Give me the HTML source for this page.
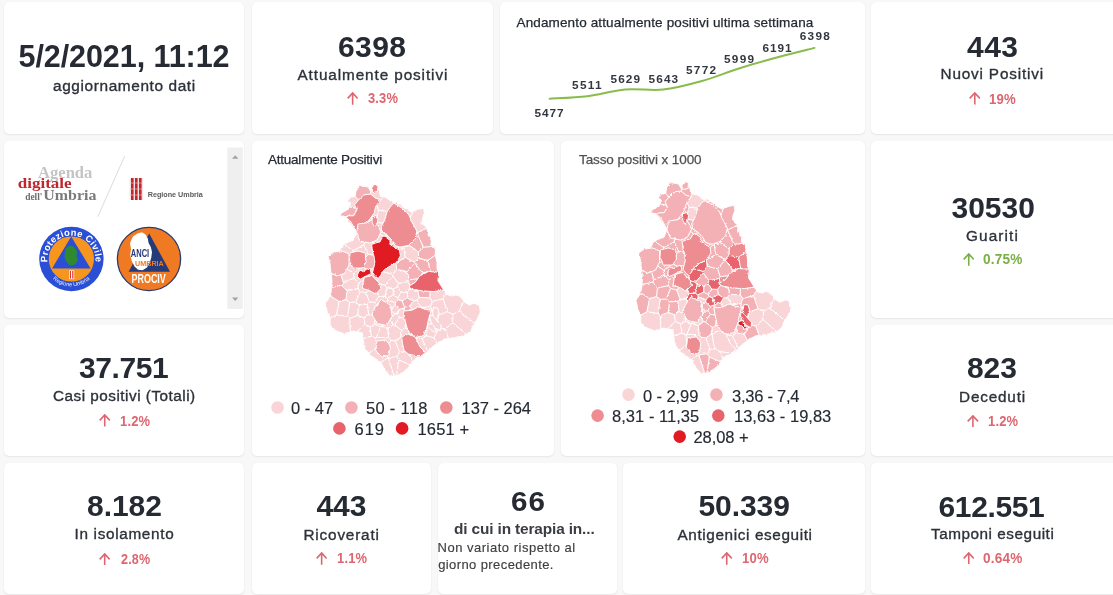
<!DOCTYPE html>
<html lang="it">
<head>
<meta charset="utf-8">
<title>Coronavirus Umbria - dashboard</title>
<style>
html,body{margin:0;padding:0}
body{width:1113px;height:595px;overflow:hidden;background:#f8f8f8;position:relative;font-family:"Liberation Sans",Arial,sans-serif}
.c{position:absolute;background:#fff;border-radius:5px;box-shadow:0 1px 2px rgba(0,0,0,0.07),0 0 1px rgba(0,0,0,0.06)}
.t{position:absolute;white-space:nowrap;line-height:1}
</style>
</head>
<body>
<div class="c" style="left:3.7px;top:2.3px;width:240.8px;height:131.4px"></div>
<div class="c" style="left:251.5px;top:2.3px;width:241.0px;height:131.4px"></div>
<div class="c" style="left:499.5px;top:2.3px;width:365.2px;height:131.4px"></div>
<div class="c" style="left:871.3px;top:2.3px;width:251.7px;height:131.4px"></div>
<div class="c" style="left:3.7px;top:140.5px;width:240.8px;height:177.2px"></div>
<div class="c" style="left:251.5px;top:140.5px;width:302.5px;height:315.2px"></div>
<div class="c" style="left:561.3px;top:140.5px;width:303.4px;height:315.2px"></div>
<div class="c" style="left:871.3px;top:140.5px;width:251.7px;height:177.2px"></div>
<div class="c" style="left:3.7px;top:324.5px;width:240.8px;height:131.2px"></div>
<div class="c" style="left:871.3px;top:324.5px;width:251.7px;height:131.2px"></div>
<div class="c" style="left:3.7px;top:462.5px;width:240.8px;height:131.0px"></div>
<div class="c" style="left:251.5px;top:462.5px;width:179.2px;height:131.0px"></div>
<div class="c" style="left:437.9px;top:462.5px;width:178.8px;height:131.0px"></div>
<div class="c" style="left:623.3px;top:462.5px;width:241.4px;height:131.0px"></div>
<div class="c" style="left:871.3px;top:462.5px;width:251.7px;height:131.0px"></div>
<svg class="gr" style="position:absolute;left:0;top:0" width="1113" height="595"><path d="M549.70 98.70 C555.97 98.28 574.72 97.75 587.30 96.20 C599.88 94.65 612.57 90.50 625.20 89.40 C637.83 88.30 650.47 90.95 663.10 89.60 C675.73 88.25 688.37 84.82 701.00 81.30 C713.63 77.78 726.27 72.47 738.90 68.50 C751.53 64.53 764.20 60.93 776.80 57.50 C789.40 54.07 808.22 49.50 814.50 47.90" fill="none" stroke="#89bb4d" stroke-width="2" stroke-linecap="round"/></svg>
<svg class="gr" style="position:absolute;left:0;top:0" width="1113" height="595"><defs><filter id="wob" x="0" y="0" width="1113" height="595" filterUnits="userSpaceOnUse"><feTurbulence type="fractalNoise" baseFrequency="0.35" numOctaves="2" seed="4" result="n"/><feDisplacementMap in="SourceGraphic" in2="n" scale="2.6" xChannelSelector="R" yChannelSelector="G"/></filter></defs><g filter="url(#wob)"><g stroke="#fff" stroke-width="0.9" stroke-linejoin="round"><path d="M373.8 184.7 L371.0 191.5 L368.0 187.0 L360.3 185.6 L356.1 190.6 L355.3 196.5 L350.3 197.3 L347.7 200.7 L351.1 203.2 L348.6 209.1 L341.0 213.3 L340.2 215.8 L346.0 216.7 L347.7 220.0 L352.8 226.7 L356.1 233.5 L353.6 240.2 L346.9 242.7 L343.5 244.4 L340.2 250.3 L331.8 252.0 L327.6 257.0 L330.1 263.7 L331.5 276.0 L332.0 281.1 L331.1 292.2 L329.2 297.7 L325.5 303.3 L327.4 312.5 L330.2 318.1 L330.2 325.5 L336.6 331.0 L344.0 333.8 L353.3 331.0 L362.5 332.9 L363.4 340.3 L364.4 347.6 L369.9 355.0 L381.0 362.4 L384.7 369.8 L390.3 376.3 L396.7 375.8 L400.0 374.1 L405.1 370.8 L408.4 367.4 L411.8 362.4 L415.2 359.0 L420.2 357.3 L425.3 354.0 L428.6 350.6 L432.0 347.2 L438.7 342.2 L445.4 338.8 L453.8 338.0 L463.9 335.5 L470.6 332.1 L474.0 323.7 L477.4 318.7 L480.7 311.1 L479.0 305.2 L474.0 303.5 L469.0 305.2 L463.9 301.8 L460.5 296.8 L455.5 294.3 L452.1 296.0 L447.1 295.1 L443.7 290.1 L438.7 282.4 L439.5 274.0 L437.0 269.0 L437.0 262.2 L435.3 255.5 L435.3 248.8 L431.1 245.4 L431.1 240.4 L427.8 234.5 L426.9 227.8 L421.9 223.6 L422.7 217.7 L424.4 213.5 L423.6 208.4 L418.5 209.3 L411.0 211.8 L405.1 208.4 L396.7 201.7 L394.0 203.2 L388.9 199.8 L385.5 197.3 L380.5 196.5 L378.0 185.6Z" fill="#f9d5d7"/><path d="M349.5 260.9 L350.0 253.0 L353.4 252.1 L353.2 250.7 L344.2 244.0 L343.5 244.4 L340.2 250.3 L337.0 250.9 L337.4 251.6 L342.0 251.0 L349.0 254.0 L349.0 261.2Z" fill="#f9d5d7"/><path d="M395.5 302.8 L398.4 299.5 L397.9 297.6 L393.3 295.0 L387.1 297.9 L387.7 300.2Z" fill="#f9d5d7"/><path d="M356.8 331.7 L362.5 332.9 L363.2 338.7 L371.5 336.2 L370.1 326.8 L365.0 324.5Z" fill="#f9d5d7"/><path d="M426.5 335.7 L421.8 338.6 L427.8 351.4 L428.6 350.6 L432.0 347.2 L437.1 343.4 L433.9 337.7Z" fill="#f9d5d7"/><path d="M347.6 316.4 L336.5 314.8 L330.2 318.1 L330.2 325.5 L336.6 331.0 L344.0 333.8 L350.4 331.9 L349.8 318.2Z" fill="#f9d5d7"/><path d="M387.7 300.2 L387.1 297.9 L385.0 296.1 L378.6 296.6 L374.9 302.1 L377.1 304.8 L381.0 299.6 L386.8 303.0Z" fill="#f9d5d7"/><path d="M445.3 329.1 L448.4 338.5 L453.8 338.0 L463.9 335.5 L466.0 334.4 L452.6 322.4Z" fill="#f9d5d7"/><path d="M378.6 210.3 L387.4 211.3 L390.6 206.6 L394.0 203.2 L388.9 199.8 L385.5 197.3 L383.1 196.9 L379.6 201.1 L378.0 203.2 L376.6 205.6ZM399.0 203.6 L396.7 201.7 L394.0 203.2 L397.8 205.5Z" fill="#f9d5d7"/><path d="M379.2 277.1 L378.1 278.4 L375.3 276.1 L372.6 272.4 L373.5 268.7 L373.7 267.9 L370.2 269.1 L371.2 273.6 L367.4 275.3 L367.4 276.6 L371.8 275.5 L377.8 281.6Z" fill="#f9d5d7"/><path d="M477.4 318.7 L480.7 311.1 L479.0 305.2 L474.0 303.5 L469.0 305.2 L463.9 301.8 L463.6 301.4 L459.1 311.1 L474.3 323.3Z" fill="#f9d5d7"/><path d="M407.6 328.8 L406.8 327.1 L405.6 322.5 L405.1 328.4Z" fill="#f9d5d7"/><path d="M435.3 255.2 L435.3 248.8 L432.3 246.4 L423.4 247.1 L418.6 251.8 L418.3 258.4 L428.0 260.4Z" fill="#f3b1b5"/><path d="M428.1 324.5 L431.5 323.7 L432.0 324.5 L432.9 324.5 L431.0 322.0 L429.5 316.0 L433.0 315.5 L433.4 316.1 L432.5 313.0 L432.9 311.0 L432.1 310.6 L430.4 312.7 L428.6 318.7 L427.4 324.5ZM439.1 314.7 L438.5 314.4 L437.0 319.0 L435.1 318.4 L437.0 321.0 L437.2 321.3Z" fill="#f9d5d7"/><path d="M331.5 276.0 L332.0 281.1 L331.5 287.6 L342.3 285.2 L343.5 282.7 L341.0 274.5 L337.0 276.0 L331.2 273.1Z" fill="#f3b1b5"/><path d="M399.2 250.1 L399.4 250.2 L400.3 255.7 L398.4 259.4 L395.9 262.9 L395.9 263.0 L405.3 257.5 L403.9 247.5Z" fill="#f9d5d7"/><path d="M417.1 232.9 L416.7 232.9 L416.2 233.7 L415.2 238.7 L411.0 242.9 L409.4 245.6 L418.6 251.8 L423.4 247.1Z" fill="#f3b1b5"/><path d="M387.9 328.7 L393.0 324.8 L390.4 319.6 L390.2 319.5 L386.6 325.5 L382.1 324.6 L381.7 326.5Z" fill="#f9d5d7"/><path d="M346.8 291.1 L358.1 288.7 L358.4 282.6 L354.0 278.1 L343.5 282.7 L342.3 285.2Z" fill="#f9d5d7"/><path d="M423.4 247.1 L432.3 246.4 L431.1 245.4 L431.1 240.4 L427.8 234.5 L426.9 228.1 L417.1 232.9Z" fill="#f3b1b5"/><path d="M368.5 254.5 L363.6 244.8 L353.2 250.7 L353.4 252.1 L358.0 251.0 L365.0 253.0 L365.5 257.3Z" fill="#f9d5d7"/><path d="M399.6 352.3 L396.7 356.8 L398.9 360.1 L410.1 364.9 L411.8 362.4 L412.9 361.3 L409.1 354.2 L408.4 354.0 L405.1 351.4Z" fill="#f9d5d7"/><path d="M390.4 319.6 L395.0 313.7 L391.4 310.9 L391.3 311.0 L392.1 316.2 L390.2 319.5Z" fill="#f9d5d7"/><path d="M388.6 343.6 L390.3 346.0 L389.0 355.0 L387.1 355.5 L388.1 357.9 L388.2 357.9 L396.7 356.8 L399.6 352.3 L395.4 340.8 L390.9 340.3Z" fill="#f9d5d7"/><path d="M422.4 273.2 L428.4 271.6 L428.6 271.5 L428.8 271.5 L430.2 271.1 L428.0 260.4 L418.3 258.4 L414.6 262.4 L414.6 262.9Z" fill="#f3b1b5"/><path d="M446.0 293.5 L443.7 290.1 L443.6 290.0 L433.7 291.6 L430.0 291.3 L429.7 297.9 L432.3 301.4 L443.0 298.9Z" fill="#f9d5d7"/><path d="M410.0 306.1 L412.3 310.0 L418.5 306.9 L421.1 307.8 L421.2 307.6 L417.1 300.2 L412.9 301.1Z" fill="#f9d5d7"/><path d="M404.1 307.8 L399.7 309.2 L397.3 313.8 L399.8 317.5 L404.7 318.1 L403.4 311.1 L404.9 311.0Z" fill="#f9d5d7"/><path d="M393.4 289.1 L386.5 287.5 L385.0 296.1 L387.1 297.9 L393.3 295.0Z" fill="#f9d5d7"/><path d="M445.3 329.1 L452.6 322.4 L453.1 314.3 L447.3 311.7 L439.1 314.7 L437.2 321.3 L441.5 326.0 L440.8 328.1Z" fill="#f9d5d7"/><path d="M432.1 310.6 L430.5 306.6 L421.2 307.6 L421.1 307.8 L425.3 309.4 L431.1 310.3 L430.4 312.7Z" fill="#f9d5d7"/><path d="M430.0 291.3 L421.9 290.8 L419.2 290.4 L418.1 291.5 L418.9 297.4 L429.7 297.9Z" fill="#f3b1b5"/><path d="M418.6 251.8 L409.4 245.6 L404.2 246.7 L403.9 247.5 L405.3 257.5 L414.6 262.4 L418.3 258.4Z" fill="#f9d5d7"/><path d="M349.6 206.7 L348.6 209.1 L341.0 213.3 L340.2 215.8 L346.0 216.7 L346.3 217.3 L348.6 215.8 L353.6 215.8 L357.0 209.9 L356.2 208.4ZM347.7 220.0 L352.8 226.7 L354.8 230.8 L355.6 230.8 L353.6 226.7 L350.3 220.9 L346.7 218.0Z" fill="#f3b1b5"/><path d="M407.0 271.8 L409.6 279.8 L417.9 278.8 L420.2 275.7 L421.6 275.0 L422.4 273.2 L414.6 262.9Z" fill="#f3b1b5"/><path d="M412.9 301.1 L407.9 297.2 L402.0 300.9 L404.4 307.3 L410.0 306.1Z" fill="#f3b1b5"/><path d="M378.6 210.3 L376.6 205.6 L375.5 207.4 L373.8 213.3 L370.4 218.3 L367.4 222.1 L368.1 222.1 L372.1 219.6 L372.0 217.0 L376.0 215.5 L376.9 217.0Z" fill="#f9d5d7"/><path d="M392.9 276.1 L392.8 274.4 L382.6 271.6 L380.9 275.1 L379.2 277.1 L377.8 281.6 L379.2 283.0 L379.5 283.8 L385.0 285.3Z" fill="#f9d5d7"/><path d="M426.9 228.1 L426.9 227.8 L421.9 223.6 L422.7 217.7 L424.4 213.5 L423.6 208.4 L418.5 209.3 L413.2 211.1 L410.1 217.7 L411.8 221.9 L416.8 231.1 L416.5 232.7 L416.7 232.9 L417.1 232.9Z" fill="#f9d5d7"/><path d="M393.6 242.7 L392.3 240.2 L387.6 235.5 L384.9 236.5 L390.6 240.9 L389.7 244.2 L391.6 245.3Z" fill="#f9d5d7"/><path d="M396.6 375.8 L398.9 360.1 L396.7 356.8 L388.2 357.9 L394.0 376.0Z" fill="#f9d5d7"/><path d="M374.7 324.4 L380.9 326.7 L381.7 326.5 L382.1 324.6 L377.3 323.6 L374.7 319.3Z" fill="#f9d5d7"/><path d="M393.0 324.8 L394.4 324.9 L399.8 317.5 L397.3 313.8 L395.0 313.7 L390.4 319.6Z" fill="#f9d5d7"/><path d="M377.3 222.3 L377.0 224.0 L376.8 224.3 L378.0 226.0 L381.0 232.0 L379.7 234.6 L384.2 236.6 L384.6 236.3 L384.9 236.5 L387.6 235.5 L387.2 235.1 L382.2 231.8 L381.3 226.7 L383.1 223.2Z" fill="#f9d5d7"/><path d="M412.9 361.3 L415.2 359.0 L420.2 357.3 L423.3 355.3 L422.7 354.8 L421.9 355.6 L415.2 355.6 L409.1 354.2Z" fill="#f9d5d7"/><path d="M363.6 244.8 L368.5 254.5 L373.7 255.3 L373.0 253.0 L371.6 244.6 L374.6 243.4 L372.9 241.7 L370.0 243.0 L364.5 241.9Z" fill="#f9d5d7"/><path d="M369.7 302.1 L366.1 292.8 L360.1 291.4 L355.7 302.0 L359.0 304.9 L367.4 304.4Z" fill="#f9d5d7"/><path d="M416.8 338.2 L421.8 338.6 L426.5 335.7 L427.1 326.2 L426.9 327.1 L423.6 335.5 L416.8 337.1 L416.4 336.9Z" fill="#f9d5d7"/><path d="M400.4 337.2 L395.4 340.8 L399.6 352.3 L405.1 351.4 L404.2 350.6 L402.6 343.9 L401.8 337.8Z" fill="#f9d5d7"/><path d="M368.5 254.5 L365.5 257.3 L366.0 262.0 L362.7 266.9 L366.5 269.4 L366.8 269.2 L370.0 268.4 L370.2 269.1 L373.7 267.9 L374.9 263.1 L374.4 257.6 L373.7 255.3Z" fill="#f3b1b5"/><path d="M402.0 300.9 L407.9 297.2 L407.1 292.4 L401.2 292.1 L397.9 297.6 L398.4 299.5Z" fill="#f9d5d7"/><path d="M363.9 317.8 L368.7 314.4 L367.4 304.4 L359.0 304.9 L357.7 315.4Z" fill="#f9d5d7"/><path d="M413.2 211.1 L411.0 211.8 L405.1 208.4 L399.0 203.6 L397.8 205.5 L402.4 208.3 L409.0 215.0 L410.1 217.7Z" fill="#f9d5d7"/><path d="M437.0 269.0 L437.0 262.2 L435.3 255.5 L435.3 255.2 L428.0 260.4 L430.2 271.1 L431.7 271.7 L438.6 272.3Z" fill="#f3b1b5"/><path d="M385.0 285.3 L379.5 283.8 L381.0 288.5 L376.9 292.6 L378.6 296.6 L385.0 296.1 L386.5 287.5Z" fill="#f9d5d7"/><path d="M337.0 250.9 L331.8 252.0 L329.0 255.3 L334.0 252.0 L337.4 251.6ZM327.6 257.0 L330.1 263.6 L330.0 263.0 L328.1 256.4Z" fill="#f9d5d7"/><path d="M388.7 337.7 L376.4 337.3 L375.4 337.9 L376.4 347.3 L376.4 347.3 L377.0 341.0 L386.0 340.0 L388.6 343.6 L390.9 340.3Z" fill="#f9d5d7"/><path d="M447.3 311.7 L453.1 314.3 L459.1 311.1 L463.6 301.4 L460.5 296.8 L455.5 294.3 L452.1 296.0 L447.1 295.1 L446.0 293.5 L443.0 298.9Z" fill="#f9d5d7"/><path d="M350.4 331.9 L353.3 331.0 L356.8 331.7 L365.0 324.5 L363.9 317.8 L357.7 315.4 L349.8 318.2Z" fill="#f9d5d7"/><path d="M329.2 297.7 L325.5 303.3 L327.4 312.5 L330.2 318.1 L330.2 318.1 L336.5 314.8 L339.2 301.5 L329.9 295.6Z" fill="#f9d5d7"/><path d="M392.8 274.4 L396.9 269.2 L395.9 263.0 L395.9 262.9 L395.7 263.1 L392.0 265.0 L385.5 268.7 L382.7 271.4 L382.6 271.6Z" fill="#f9d5d7"/><path d="M433.9 337.7 L438.4 329.6 L435.5 328.0 L432.9 324.5 L432.0 324.5 L434.0 327.5 L436.5 331.5 L433.5 332.0 L430.0 328.5 L427.5 327.5 L428.0 324.5 L428.1 324.5 L427.4 324.5 L427.1 326.2 L426.5 335.7Z" fill="#f9d5d7"/><path d="M350.3 197.3 L347.7 200.7 L351.1 203.2 L349.6 206.7 L356.2 208.4 L354.5 204.9 L358.7 199.8 L355.3 196.5Z" fill="#f9d5d7"/><path d="M375.4 337.9 L371.5 336.2 L363.2 338.7 L363.4 340.3 L364.4 347.6 L368.9 353.7 L376.4 347.3Z" fill="#f9d5d7"/><path d="M349.6 302.2 L347.6 316.4 L349.8 318.2 L357.7 315.4 L359.0 304.9 L355.7 302.0Z" fill="#f9d5d7"/><path d="M353.9 273.6 L347.1 268.8 L345.0 273.0 L341.0 274.5 L343.5 282.7 L354.0 278.1Z" fill="#f9d5d7"/><path d="M453.1 314.3 L452.6 322.4 L466.0 334.4 L470.6 332.1 L474.0 323.7 L474.3 323.3 L459.1 311.1Z" fill="#f9d5d7"/><path d="M400.4 337.2 L401.8 337.8 L401.7 337.1 L408.4 333.8 L415.2 337.1 L416.1 338.9 L416.8 338.2 L416.4 336.9 L410.1 333.8 L407.6 328.8 L405.1 328.4 L401.8 330.4Z" fill="#f9d5d7"/><path d="M395.3 305.2 L395.5 302.8 L387.7 300.2 L386.8 303.0 L390.3 305.1 L390.6 307.1 L391.8 308.0Z" fill="#f9d5d7"/><path d="M397.3 313.8 L399.7 309.2 L395.3 305.2 L391.8 308.0 L391.4 310.9 L395.0 313.7Z" fill="#f9d5d7"/><path d="M401.8 330.4 L405.1 328.4 L405.6 322.5 L405.1 320.3 L404.7 318.1 L399.8 317.5 L394.4 324.9Z" fill="#f9d5d7"/><path d="M439.5 274.0 L438.7 272.4 L437.9 280.7 L438.7 282.0Z" fill="#f9d5d7"/><path d="M363.9 280.3 L364.4 277.4 L367.4 276.6 L367.4 275.3 L367.2 275.4 L363.2 277.5 L360.5 279.0 L357.4 278.0 L357.6 274.5 L359.8 270.2 L363.5 271.6 L366.5 269.4 L362.7 266.9 L362.0 268.0 L360.3 268.0 L353.9 273.6 L354.0 278.1 L358.4 282.6Z" fill="#f9d5d7"/><path d="M367.4 222.1 L367.1 222.5 L363.5 223.1 L363.4 223.3 L367.0 222.8 L368.1 222.1Z" fill="#f9d5d7"/><path d="M378.6 210.3 L376.9 217.0 L378.0 219.0 L377.3 222.3 L383.1 223.2 L384.7 220.0 L387.2 211.6 L387.4 211.3Z" fill="#f9d5d7"/><path d="M391.8 308.0 L390.6 307.1 L391.3 311.0 L391.4 310.9Z" fill="#f9d5d7"/><path d="M360.1 291.4 L358.1 288.7 L346.8 291.1 L346.0 299.7 L349.6 302.2 L355.7 302.0Z" fill="#f9d5d7"/><path d="M398.5 283.4 L392.9 276.1 L385.0 285.3 L386.5 287.5 L393.4 289.1 L397.4 286.7Z" fill="#f9d5d7"/><path d="M404.2 246.7 L409.4 245.6 L411.0 242.9 L408.4 245.4 L403.8 246.3Z" fill="#f9d5d7"/><path d="M437.1 343.4 L438.7 342.2 L445.4 338.8 L448.4 338.5 L445.3 329.1 L440.8 328.1 L440.0 330.5 L438.4 329.6 L433.9 337.7Z" fill="#f9d5d7"/><path d="M363.6 244.8 L364.5 241.9 L360.0 241.0 L356.5 233.0 L356.8 231.1 L356.1 231.8 L355.6 230.8 L354.8 230.8 L356.1 233.5 L353.6 240.2 L346.9 242.7 L344.2 244.0 L353.2 250.7Z" fill="#f9d5d7"/><path d="M410.2 288.2 L410.1 287.9 L408.4 286.6 L409.7 285.8 L408.8 281.4 L398.5 283.4 L397.4 286.7 L401.2 292.1 L407.1 292.4Z" fill="#f9d5d7"/><path d="M342.3 285.2 L331.5 287.6 L331.1 292.2 L329.9 295.6 L339.2 301.5 L346.0 299.7 L346.8 291.1Z" fill="#f3b1b5"/><path d="M380.5 196.5 L378.0 185.6 L377.5 191.4 L373.0 192.5 L371.7 189.9 L371.0 191.5 L368.0 187.0 L371.0 192.0 L370.4 194.0 L375.5 198.2 L380.5 199.8 L379.6 201.1 L383.1 196.9Z" fill="#f9d5d7"/><path d="M396.6 375.8 L396.7 375.8 L400.0 374.1 L405.1 370.8 L408.4 367.4 L410.1 364.9 L398.9 360.1Z" fill="#f9d5d7"/><path d="M366.1 292.8 L369.2 290.4 L369.0 290.3 L362.5 288.5 L363.9 280.3 L358.4 282.6 L358.1 288.7 L360.1 291.4Z" fill="#f9d5d7"/><path d="M379.7 234.6 L377.0 240.0 L372.9 241.7 L374.6 243.4 L376.3 242.8 L380.0 241.9 L381.8 238.2 L384.2 236.6Z" fill="#f9d5d7"/><path d="M398.5 283.4 L408.8 281.4 L409.6 279.8 L407.0 271.8 L396.9 269.2 L392.8 274.4 L392.9 276.1Z" fill="#f9d5d7"/><path d="M387.1 355.5 L382.0 357.0 L376.0 351.0 L376.4 347.3 L376.4 347.3 L368.9 353.7 L369.9 355.0 L381.0 362.4 L381.1 362.5 L388.1 357.9Z" fill="#f9d5d7"/><path d="M418.1 291.5 L419.2 290.4 L412.7 289.3ZM409.6 279.8 L408.8 281.4 L409.7 285.8 L415.2 282.4 L417.9 278.8Z" fill="#f3b1b5"/><path d="M432.1 310.6 L432.9 311.0 L433.5 307.5 L437.5 308.0 L439.0 313.0 L438.5 314.4 L439.1 314.7 L447.3 311.7 L443.0 298.9 L432.3 301.4 L430.5 306.6Z" fill="#f9d5d7"/><path d="M430.5 306.6 L432.3 301.4 L429.7 297.9 L418.9 297.4 L417.1 300.2 L421.2 307.6Z" fill="#f9d5d7"/><path d="M339.2 301.5 L336.5 314.8 L347.6 316.4 L349.6 302.2 L346.0 299.7Z" fill="#f9d5d7"/><path d="M370.1 326.8 L371.5 336.2 L375.4 337.9 L376.4 337.3 L380.9 326.7 L374.7 324.4Z" fill="#f9d5d7"/><path d="M384.7 369.8 L390.3 376.3 L394.0 376.0 L388.2 357.9 L388.1 357.9 L381.1 362.5Z" fill="#f9d5d7"/><path d="M376.4 337.3 L388.7 337.7 L387.9 328.7 L381.7 326.5 L380.9 326.7Z" fill="#f9d5d7"/><path d="M391.6 245.3 L395.7 247.9 L399.2 250.1 L403.9 247.5 L404.2 246.7 L403.8 246.3 L400.0 247.1 L395.0 245.4 L393.6 242.7Z" fill="#f9d5d7"/><path d="M367.4 304.4 L368.7 314.4 L372.2 315.1 L371.8 314.4 L375.5 307.0 L377.1 304.8 L374.9 302.1 L369.7 302.1Z" fill="#f9d5d7"/><path d="M416.8 338.2 L416.1 338.9 L420.2 347.2 L425.3 352.3 L422.7 354.8 L423.3 355.3 L425.3 354.0 L427.8 351.4 L421.8 338.6Z" fill="#f9d5d7"/><path d="M393.0 324.8 L387.9 328.7 L388.7 337.7 L390.9 340.3 L395.4 340.8 L400.4 337.2 L401.8 330.4 L394.4 324.9Z" fill="#f9d5d7"/><path d="M360.3 268.0 L353.0 268.0 L349.5 261.0 L349.5 260.9 L349.0 261.2 L349.0 265.0 L347.1 268.8 L353.9 273.6Z" fill="#f9d5d7"/><path d="M366.1 292.8 L369.7 302.1 L374.9 302.1 L378.6 296.6 L376.9 292.6 L375.5 294.0 L369.2 290.4Z" fill="#f9d5d7"/><path d="M365.0 324.5 L370.1 326.8 L374.7 324.4 L374.7 319.3 L372.2 315.1 L368.7 314.4 L363.9 317.8Z" fill="#f9d5d7"/><path d="M395.9 263.0 L396.9 269.2 L407.0 271.8 L414.6 262.9 L414.6 262.4 L405.3 257.5Z" fill="#f3b1b5"/><path d="M410.0 306.1 L404.4 307.3 L404.1 307.8 L404.9 311.0 L411.8 310.3 L412.3 310.0Z" fill="#f3b1b5"/><path d="M430.2 271.1 L428.8 271.5 L431.7 271.7ZM422.4 273.2 L421.6 275.0 L428.4 271.6Z" fill="#f9d5d7"/><path d="M399.7 309.2 L404.1 307.8 L404.4 307.3 L402.0 300.9 L398.4 299.5 L395.5 302.8 L395.3 305.2Z" fill="#f3b1b5"/><path d="M401.2 292.1 L397.4 286.7 L393.4 289.1 L393.3 295.0 L397.9 297.6Z" fill="#f9d5d7"/><path d="M418.1 291.5 L412.7 289.3 L411.8 289.1 L411.1 288.6 L410.2 288.2 L407.1 292.4 L407.9 297.2 L412.9 301.1 L417.1 300.2 L418.9 297.4Z" fill="#f9d5d7"/><path d="M384.6 236.3 L381.8 238.2 L380.0 241.9 L376.3 242.8 L371.6 244.6 L373.0 253.0 L374.4 257.6 L374.9 263.1 L373.5 268.7 L372.6 272.4 L375.3 276.1 L378.1 278.4 L380.9 275.1 L382.7 271.4 L385.5 268.7 L392.0 265.0 L395.7 263.1 L398.4 259.4 L400.3 255.7 L399.4 250.2 L395.7 247.9 L389.7 244.2 L390.6 240.9Z" fill="#e01b23"/><path d="M357.6 274.5 L357.4 278.0 L360.5 279.0 L363.2 277.5 L367.2 275.4 L371.2 273.6 L370.0 268.4 L366.8 269.2 L363.5 271.6 L359.8 270.2Z" fill="#e01b23"/><path d="M394.0 203.2 L390.6 206.6 L387.2 211.6 L384.7 220.0 L381.3 226.7 L382.2 231.8 L387.2 235.1 L392.3 240.2 L395.0 245.4 L400.0 247.1 L408.4 245.4 L415.2 238.7 L416.8 231.1 L411.8 221.9 L409.0 215.0 L402.4 208.3Z" fill="#ed8c91"/><path d="M363.7 194.8 L358.7 199.8 L354.5 204.9 L357.0 209.9 L353.6 215.8 L348.6 215.8 L346.0 217.5 L350.3 220.9 L353.6 226.7 L356.1 231.8 L359.5 228.4 L362.0 223.4 L367.1 222.5 L370.4 218.3 L373.8 213.3 L375.5 207.4 L378.0 203.2 L380.5 199.8 L375.5 198.2 L370.4 194.0Z" fill="#ed8c91"/><path d="M360.3 185.6 L356.1 190.6 L355.3 196.5 L358.7 199.8 L363.7 194.8 L370.4 194.0 L371.0 192.0 L368.0 187.0Z" fill="#f3b1b5"/><path d="M373.8 184.7 L371.2 189.0 L373.0 192.5 L377.5 191.4 L378.0 185.6Z" fill="#ed8c91"/><path d="M420.2 275.7 L415.2 282.4 L408.4 286.6 L411.8 289.1 L421.9 290.8 L433.7 291.6 L443.7 290.0 L437.9 280.7 L438.7 272.3 L428.6 271.5Z" fill="#e8646c"/><path d="M403.4 311.1 L405.1 320.3 L406.8 327.1 L410.1 333.8 L416.8 337.1 L423.6 335.5 L426.9 327.1 L428.6 318.7 L431.1 310.3 L425.3 309.4 L418.5 306.9 L411.8 310.3Z" fill="#ed8c91"/><path d="M401.7 337.1 L402.6 343.9 L404.2 350.6 L408.4 354.0 L415.2 355.6 L421.9 355.6 L425.3 352.3 L420.2 347.2 L415.2 337.1 L408.4 333.8Z" fill="#ed8c91"/><path d="M364.4 277.4 L362.5 288.5 L369.0 290.3 L375.5 294.0 L381.0 288.5 L379.2 283.0 L371.8 275.5Z" fill="#ed8c91"/><path d="M381.0 299.6 L375.5 307.0 L371.8 314.4 L377.3 323.6 L386.6 325.5 L392.1 316.2 L390.3 305.1Z" fill="#f3b1b5"/><path d="M377.0 341.0 L376.0 351.0 L382.0 357.0 L389.0 355.0 L390.3 346.0 L386.0 340.0Z" fill="#f3b1b5"/><path d="M358.0 224.0 L356.5 233.0 L360.0 241.0 L370.0 243.0 L377.0 240.0 L381.0 232.0 L378.0 226.0 L373.0 219.0 L367.0 222.8Z" fill="#f3b1b5"/><path d="M350.0 253.0 L349.5 261.0 L353.0 268.0 L362.0 268.0 L366.0 262.0 L365.0 253.0 L358.0 251.0Z" fill="#ed8c91"/><path d="M433.5 307.5 L432.5 313.0 L434.0 318.0 L437.0 319.0 L439.0 313.0 L437.5 308.0Z" fill="#f9d5d7"/><path d="M429.5 316.0 L431.0 322.0 L435.5 328.0 L440.0 330.5 L441.5 326.0 L437.0 321.0 L433.0 315.5Z" fill="#f9d5d7"/><path d="M428.0 324.5 L427.5 327.5 L430.0 328.5 L433.5 332.0 L436.5 331.5 L434.0 327.5 L431.5 323.7Z" fill="#f9d5d7"/><path d="M372.0 217.0 L372.3 223.0 L374.5 227.0 L377.0 224.0 L378.0 219.0 L376.0 215.5Z" fill="#ed8c91"/><path d="M328.0 256.0 L330.0 263.0 L331.0 273.0 L337.0 276.0 L345.0 273.0 L349.0 265.0 L349.0 254.0 L342.0 251.0 L334.0 252.0Z" fill="#f3b1b5"/></g><g stroke="#fff" stroke-width="0.9" stroke-linejoin="round"><path d="M684.3 181.7 L681.5 188.5 L678.5 184.0 L670.8 182.6 L666.6 187.6 L665.8 193.5 L660.8 194.3 L658.2 197.7 L661.6 200.2 L659.1 206.1 L651.5 210.3 L650.7 212.8 L656.5 213.7 L658.2 217.0 L663.3 223.7 L666.6 230.5 L664.1 237.2 L657.4 239.7 L654.0 241.4 L650.7 247.3 L642.3 249.0 L638.1 254.0 L640.6 260.7 L642.0 273.0 L642.5 278.1 L641.6 289.2 L639.7 294.7 L636.0 300.3 L637.9 309.5 L640.7 315.1 L640.7 322.5 L647.1 328.0 L654.5 330.8 L663.8 328.0 L673.0 329.9 L673.9 337.3 L674.9 344.6 L680.4 352.0 L691.5 359.4 L695.2 366.8 L700.8 373.3 L707.2 372.8 L710.5 371.1 L715.6 367.8 L718.9 364.4 L722.3 359.4 L725.7 356.0 L730.7 354.3 L735.8 351.0 L739.1 347.6 L742.5 344.2 L749.2 339.2 L755.9 335.8 L764.3 335.0 L774.4 332.5 L781.1 329.1 L784.5 320.7 L787.9 315.7 L791.2 308.1 L789.5 302.2 L784.5 300.5 L779.5 302.2 L774.4 298.8 L771.0 293.8 L766.0 291.3 L762.6 293.0 L757.6 292.1 L754.2 287.1 L749.2 279.4 L750.0 271.0 L747.5 266.0 L747.5 259.2 L745.8 252.5 L745.8 245.8 L741.6 242.4 L741.6 237.4 L738.3 231.5 L737.4 224.8 L732.4 220.6 L733.2 214.7 L734.9 210.5 L734.1 205.4 L729.0 206.3 L721.5 208.8 L715.6 205.4 L707.2 198.7 L704.5 200.2 L699.4 196.8 L696.0 194.3 L691.0 193.5 L688.5 182.6Z" fill="#f9d5d7"/><path d="M660.0 257.9 L660.5 250.0 L663.9 249.1 L663.7 247.7 L654.7 241.0 L654.0 241.4 L650.7 247.3 L647.5 247.9 L647.9 248.6 L652.5 248.0 L659.5 251.0 L659.5 258.2Z" fill="#f3b1b5"/><path d="M706.0 299.8 L708.9 296.5 L708.4 294.6 L703.8 292.0 L697.6 294.9 L698.2 297.2Z" fill="#f3b1b5"/><path d="M667.3 328.7 L673.0 329.9 L673.7 335.7 L682.0 333.2 L680.6 323.8 L675.5 321.5Z" fill="#f9d5d7"/><path d="M737.0 332.7 L732.3 335.6 L738.3 348.4 L739.1 347.6 L742.5 344.2 L747.6 340.4 L744.4 334.7Z" fill="#f9d5d7"/><path d="M658.1 313.4 L647.0 311.8 L640.7 315.1 L640.7 322.5 L647.1 328.0 L654.5 330.8 L660.9 328.9 L660.3 315.2Z" fill="#f9d5d7"/><path d="M698.2 297.2 L697.6 294.9 L695.5 293.1 L689.1 293.6 L685.4 299.1 L687.6 301.8 L691.5 296.6 L697.3 300.0Z" fill="#e8646c"/><path d="M755.8 326.1 L758.9 335.5 L764.3 335.0 L774.4 332.5 L776.5 331.4 L763.1 319.4Z" fill="#f9d5d7"/><path d="M689.1 207.3 L697.9 208.3 L701.1 203.6 L704.5 200.2 L699.4 196.8 L696.0 194.3 L693.6 193.9 L690.1 198.1 L688.5 200.2 L687.1 202.6ZM709.5 200.6 L707.2 198.7 L704.5 200.2 L708.3 202.5Z" fill="#f9d5d7"/><path d="M689.7 274.1 L688.6 275.4 L685.8 273.1 L683.1 269.4 L684.0 265.7 L684.2 264.9 L680.7 266.1 L681.7 270.6 L677.9 272.3 L677.9 273.6 L682.3 272.5 L688.3 278.6Z" fill="#f3b1b5"/><path d="M787.9 315.7 L791.2 308.1 L789.5 302.2 L784.5 300.5 L779.5 302.2 L774.4 298.8 L774.1 298.4 L769.6 308.1 L784.8 320.3Z" fill="#f9d5d7"/><path d="M718.1 325.8 L717.3 324.1 L716.1 319.5 L715.6 325.4Z" fill="#f3b1b5"/><path d="M745.8 252.2 L745.8 245.8 L742.8 243.4 L733.9 244.1 L729.1 248.8 L728.8 255.4 L738.5 257.4Z" fill="#ed8c91"/><path d="M738.6 321.5 L742.0 320.7 L742.5 321.5 L743.4 321.5 L741.5 319.0 L740.0 313.0 L743.5 312.5 L743.9 313.1 L743.0 310.0 L743.4 308.0 L742.6 307.6 L740.9 309.7 L739.1 315.7 L737.9 321.5ZM749.6 311.7 L749.0 311.4 L747.5 316.0 L745.6 315.4 L747.5 318.0 L747.7 318.3Z" fill="#f3b1b5"/><path d="M642.0 273.0 L642.5 278.1 L642.0 284.6 L652.8 282.2 L654.0 279.7 L651.5 271.5 L647.5 273.0 L641.7 270.1Z" fill="#f3b1b5"/><path d="M709.7 247.1 L709.9 247.2 L710.8 252.7 L708.9 256.4 L706.4 259.9 L706.4 260.0 L715.8 254.5 L714.4 244.5Z" fill="#f3b1b5"/><path d="M727.6 229.9 L727.2 229.9 L726.7 230.7 L725.7 235.7 L721.5 239.9 L719.9 242.6 L729.1 248.8 L733.9 244.1Z" fill="#f3b1b5"/><path d="M698.4 325.7 L703.5 321.8 L700.9 316.6 L700.7 316.5 L697.1 322.5 L692.6 321.6 L692.2 323.5Z" fill="#f9d5d7"/><path d="M657.3 288.1 L668.6 285.7 L668.9 279.6 L664.5 275.1 L654.0 279.7 L652.8 282.2Z" fill="#f3b1b5"/><path d="M733.9 244.1 L742.8 243.4 L741.6 242.4 L741.6 237.4 L738.3 231.5 L737.4 225.1 L727.6 229.9Z" fill="#f3b1b5"/><path d="M679.0 251.5 L674.1 241.8 L663.7 247.7 L663.9 249.1 L668.5 248.0 L675.5 250.0 L676.0 254.3Z" fill="#f3b1b5"/><path d="M710.1 349.3 L707.2 353.8 L709.4 357.1 L720.6 361.9 L722.3 359.4 L723.4 358.3 L719.6 351.2 L718.9 351.0 L715.6 348.4Z" fill="#f9d5d7"/><path d="M700.9 316.6 L705.5 310.7 L701.9 307.9 L701.8 308.0 L702.6 313.2 L700.7 316.5Z" fill="#f9d5d7"/><path d="M699.1 340.6 L700.8 343.0 L699.5 352.0 L697.6 352.5 L698.6 354.9 L698.7 354.9 L707.2 353.8 L710.1 349.3 L705.9 337.8 L701.4 337.3Z" fill="#f9d5d7"/><path d="M732.9 270.2 L738.9 268.6 L739.1 268.5 L739.3 268.5 L740.7 268.1 L738.5 257.4 L728.8 255.4 L725.1 259.4 L725.1 259.9Z" fill="#e8646c"/><path d="M756.5 290.5 L754.2 287.1 L754.1 287.0 L744.2 288.6 L740.5 288.3 L740.2 294.9 L742.8 298.4 L753.5 295.9Z" fill="#f3b1b5"/><path d="M720.5 303.1 L722.8 307.0 L729.0 303.9 L731.6 304.8 L731.7 304.6 L727.6 297.2 L723.4 298.1Z" fill="#f9d5d7"/><path d="M714.6 304.8 L710.2 306.2 L707.8 310.8 L710.3 314.5 L715.2 315.1 L713.9 308.1 L715.4 308.0Z" fill="#f3b1b5"/><path d="M703.9 286.1 L697.0 284.5 L695.5 293.1 L697.6 294.9 L703.8 292.0Z" fill="#e8646c"/><path d="M755.8 326.1 L763.1 319.4 L763.6 311.3 L757.8 308.7 L749.6 311.7 L747.7 318.3 L752.0 323.0 L751.3 325.1Z" fill="#f9d5d7"/><path d="M742.6 307.6 L741.0 303.6 L731.7 304.6 L731.6 304.8 L735.8 306.4 L741.6 307.3 L740.9 309.7Z" fill="#f3b1b5"/><path d="M740.5 288.3 L732.4 287.8 L729.7 287.4 L728.6 288.5 L729.4 294.4 L740.2 294.9Z" fill="#f3b1b5"/><path d="M729.1 248.8 L719.9 242.6 L714.7 243.7 L714.4 244.5 L715.8 254.5 L725.1 259.4 L728.8 255.4Z" fill="#f3b1b5"/><path d="M660.1 203.7 L659.1 206.1 L651.5 210.3 L650.7 212.8 L656.5 213.7 L656.8 214.3 L659.1 212.8 L664.1 212.8 L667.5 206.9 L666.7 205.4ZM658.2 217.0 L663.3 223.7 L665.3 227.8 L666.1 227.8 L664.1 223.7 L660.8 217.9 L657.2 215.0Z" fill="#f3b1b5"/><path d="M717.5 268.8 L720.1 276.8 L728.4 275.8 L730.7 272.7 L732.1 272.0 L732.9 270.2 L725.1 259.9Z" fill="#f3b1b5"/><path d="M723.4 298.1 L718.4 294.2 L712.5 297.9 L714.9 304.3 L720.5 303.1Z" fill="#e8646c"/><path d="M689.1 207.3 L687.1 202.6 L686.0 204.4 L684.3 210.3 L680.9 215.3 L677.9 219.1 L678.6 219.1 L682.6 216.6 L682.5 214.0 L686.5 212.5 L687.4 214.0Z" fill="#f3b1b5"/><path d="M703.4 273.1 L703.3 271.4 L693.1 268.6 L691.4 272.1 L689.7 274.1 L688.3 278.6 L689.7 280.0 L690.0 280.8 L695.5 282.3Z" fill="#e8646c"/><path d="M737.4 225.1 L737.4 224.8 L732.4 220.6 L733.2 214.7 L734.9 210.5 L734.1 205.4 L729.0 206.3 L723.7 208.1 L720.6 214.7 L722.3 218.9 L727.3 228.1 L727.0 229.7 L727.2 229.9 L727.6 229.9Z" fill="#f3b1b5"/><path d="M704.1 239.7 L702.8 237.2 L698.1 232.5 L695.4 233.5 L701.1 237.9 L700.2 241.2 L702.1 242.3Z" fill="#f3b1b5"/><path d="M707.1 372.8 L709.4 357.1 L707.2 353.8 L698.7 354.9 L704.5 373.0Z" fill="#f3b1b5"/><path d="M685.2 321.4 L691.4 323.7 L692.2 323.5 L692.6 321.6 L687.8 320.6 L685.2 316.3Z" fill="#f9d5d7"/><path d="M703.5 321.8 L704.9 321.9 L710.3 314.5 L707.8 310.8 L705.5 310.7 L700.9 316.6Z" fill="#f3b1b5"/><path d="M687.8 219.3 L687.5 221.0 L687.3 221.3 L688.5 223.0 L691.5 229.0 L690.2 231.6 L694.7 233.6 L695.1 233.3 L695.4 233.5 L698.1 232.5 L697.7 232.1 L692.7 228.8 L691.8 223.7 L693.6 220.2Z" fill="#f3b1b5"/><path d="M723.4 358.3 L725.7 356.0 L730.7 354.3 L733.8 352.3 L733.2 351.8 L732.4 352.6 L725.7 352.6 L719.6 351.2Z" fill="#f9d5d7"/><path d="M674.1 241.8 L679.0 251.5 L684.2 252.3 L683.5 250.0 L682.1 241.6 L685.1 240.4 L683.4 238.7 L680.5 240.0 L675.0 238.9Z" fill="#f3b1b5"/><path d="M680.2 299.1 L676.6 289.8 L670.6 288.4 L666.2 299.0 L669.5 301.9 L677.9 301.4Z" fill="#f3b1b5"/><path d="M727.3 335.2 L732.3 335.6 L737.0 332.7 L737.6 323.2 L737.4 324.1 L734.1 332.5 L727.3 334.1 L726.9 333.9Z" fill="#f9d5d7"/><path d="M710.9 334.2 L705.9 337.8 L710.1 349.3 L715.6 348.4 L714.7 347.6 L713.1 340.9 L712.3 334.8Z" fill="#f9d5d7"/><path d="M679.0 251.5 L676.0 254.3 L676.5 259.0 L673.2 263.9 L677.0 266.4 L677.3 266.2 L680.5 265.4 L680.7 266.1 L684.2 264.9 L685.4 260.1 L684.9 254.6 L684.2 252.3Z" fill="#f3b1b5"/><path d="M712.5 297.9 L718.4 294.2 L717.6 289.4 L711.7 289.1 L708.4 294.6 L708.9 296.5Z" fill="#f3b1b5"/><path d="M674.4 314.8 L679.2 311.4 L677.9 301.4 L669.5 301.9 L668.2 312.4Z" fill="#f3b1b5"/><path d="M723.7 208.1 L721.5 208.8 L715.6 205.4 L709.5 200.6 L708.3 202.5 L712.9 205.3 L719.5 212.0 L720.6 214.7Z" fill="#f3b1b5"/><path d="M747.5 266.0 L747.5 259.2 L745.8 252.5 L745.8 252.2 L738.5 257.4 L740.7 268.1 L742.2 268.7 L749.1 269.3Z" fill="#ed8c91"/><path d="M695.5 282.3 L690.0 280.8 L691.5 285.5 L687.4 289.6 L689.1 293.6 L695.5 293.1 L697.0 284.5Z" fill="#e8646c"/><path d="M647.5 247.9 L642.3 249.0 L639.5 252.3 L644.5 249.0 L647.9 248.6ZM638.1 254.0 L640.6 260.6 L640.5 260.0 L638.6 253.4Z" fill="#f3b1b5"/><path d="M699.2 334.7 L686.9 334.3 L685.9 334.9 L686.9 344.3 L686.9 344.3 L687.5 338.0 L696.5 337.0 L699.1 340.6 L701.4 337.3Z" fill="#f9d5d7"/><path d="M757.8 308.7 L763.6 311.3 L769.6 308.1 L774.1 298.4 L771.0 293.8 L766.0 291.3 L762.6 293.0 L757.6 292.1 L756.5 290.5 L753.5 295.9Z" fill="#f9d5d7"/><path d="M660.9 328.9 L663.8 328.0 L667.3 328.7 L675.5 321.5 L674.4 314.8 L668.2 312.4 L660.3 315.2Z" fill="#f9d5d7"/><path d="M639.7 294.7 L636.0 300.3 L637.9 309.5 L640.7 315.1 L640.7 315.1 L647.0 311.8 L649.7 298.5 L640.4 292.6Z" fill="#f3b1b5"/><path d="M703.3 271.4 L707.4 266.2 L706.4 260.0 L706.4 259.9 L706.2 260.1 L702.5 262.0 L696.0 265.7 L693.2 268.4 L693.1 268.6Z" fill="#e8646c"/><path d="M744.4 334.7 L748.9 326.6 L746.0 325.0 L743.4 321.5 L742.5 321.5 L744.5 324.5 L747.0 328.5 L744.0 329.0 L740.5 325.5 L738.0 324.5 L738.5 321.5 L738.6 321.5 L737.9 321.5 L737.6 323.2 L737.0 332.7Z" fill="#f3b1b5"/><path d="M660.8 194.3 L658.2 197.7 L661.6 200.2 L660.1 203.7 L666.7 205.4 L665.0 201.9 L669.2 196.8 L665.8 193.5Z" fill="#f3b1b5"/><path d="M685.9 334.9 L682.0 333.2 L673.7 335.7 L673.9 337.3 L674.9 344.6 L679.4 350.7 L686.9 344.3Z" fill="#f9d5d7"/><path d="M660.1 299.2 L658.1 313.4 L660.3 315.2 L668.2 312.4 L669.5 301.9 L666.2 299.0Z" fill="#f3b1b5"/><path d="M664.4 270.6 L657.6 265.8 L655.5 270.0 L651.5 271.5 L654.0 279.7 L664.5 275.1Z" fill="#f3b1b5"/><path d="M763.6 311.3 L763.1 319.4 L776.5 331.4 L781.1 329.1 L784.5 320.7 L784.8 320.3 L769.6 308.1Z" fill="#f9d5d7"/><path d="M710.9 334.2 L712.3 334.8 L712.2 334.1 L718.9 330.8 L725.7 334.1 L726.6 335.9 L727.3 335.2 L726.9 333.9 L720.6 330.8 L718.1 325.8 L715.6 325.4 L712.3 327.4Z" fill="#f9d5d7"/><path d="M705.8 302.2 L706.0 299.8 L698.2 297.2 L697.3 300.0 L700.8 302.1 L701.1 304.1 L702.3 305.0Z" fill="#f9d5d7"/><path d="M707.8 310.8 L710.2 306.2 L705.8 302.2 L702.3 305.0 L701.9 307.9 L705.5 310.7Z" fill="#f3b1b5"/><path d="M712.3 327.4 L715.6 325.4 L716.1 319.5 L715.6 317.3 L715.2 315.1 L710.3 314.5 L704.9 321.9Z" fill="#f3b1b5"/><path d="M750.0 271.0 L749.2 269.4 L748.4 277.7 L749.2 279.0Z" fill="#f3b1b5"/><path d="M674.4 277.3 L674.9 274.4 L677.9 273.6 L677.9 272.3 L677.7 272.4 L673.7 274.5 L671.0 276.0 L667.9 275.0 L668.1 271.5 L670.3 267.2 L674.0 268.6 L677.0 266.4 L673.2 263.9 L672.5 265.0 L670.8 265.0 L664.4 270.6 L664.5 275.1 L668.9 279.6Z" fill="#f3b1b5"/><path d="M677.9 219.1 L677.6 219.5 L674.0 220.1 L673.9 220.3 L677.5 219.8 L678.6 219.1Z" fill="#f3b1b5"/><path d="M689.1 207.3 L687.4 214.0 L688.5 216.0 L687.8 219.3 L693.6 220.2 L695.2 217.0 L697.7 208.6 L697.9 208.3Z" fill="#f9d5d7"/><path d="M702.3 305.0 L701.1 304.1 L701.8 308.0 L701.9 307.9Z" fill="#f9d5d7"/><path d="M670.6 288.4 L668.6 285.7 L657.3 288.1 L656.5 296.7 L660.1 299.2 L666.2 299.0Z" fill="#f3b1b5"/><path d="M709.0 280.4 L703.4 273.1 L695.5 282.3 L697.0 284.5 L703.9 286.1 L707.9 283.7Z" fill="#f3b1b5"/><path d="M714.7 243.7 L719.9 242.6 L721.5 239.9 L718.9 242.4 L714.3 243.3Z" fill="#f3b1b5"/><path d="M747.6 340.4 L749.2 339.2 L755.9 335.8 L758.9 335.5 L755.8 326.1 L751.3 325.1 L750.5 327.5 L748.9 326.6 L744.4 334.7Z" fill="#f3b1b5"/><path d="M674.1 241.8 L675.0 238.9 L670.5 238.0 L667.0 230.0 L667.3 228.1 L666.6 228.8 L666.1 227.8 L665.3 227.8 L666.6 230.5 L664.1 237.2 L657.4 239.7 L654.7 241.0 L663.7 247.7Z" fill="#f3b1b5"/><path d="M720.7 285.2 L720.6 284.9 L718.9 283.6 L720.2 282.8 L719.3 278.4 L709.0 280.4 L707.9 283.7 L711.7 289.1 L717.6 289.4Z" fill="#e8646c"/><path d="M652.8 282.2 L642.0 284.6 L641.6 289.2 L640.4 292.6 L649.7 298.5 L656.5 296.7 L657.3 288.1Z" fill="#f3b1b5"/><path d="M691.0 193.5 L688.5 182.6 L688.0 188.4 L683.5 189.5 L682.2 186.9 L681.5 188.5 L678.5 184.0 L681.5 189.0 L680.9 191.0 L686.0 195.2 L691.0 196.8 L690.1 198.1 L693.6 193.9Z" fill="#f3b1b5"/><path d="M707.1 372.8 L707.2 372.8 L710.5 371.1 L715.6 367.8 L718.9 364.4 L720.6 361.9 L709.4 357.1Z" fill="#f3b1b5"/><path d="M676.6 289.8 L679.7 287.4 L679.5 287.3 L673.0 285.5 L674.4 277.3 L668.9 279.6 L668.6 285.7 L670.6 288.4Z" fill="#f3b1b5"/><path d="M690.2 231.6 L687.5 237.0 L683.4 238.7 L685.1 240.4 L686.8 239.8 L690.5 238.9 L692.3 235.2 L694.7 233.6Z" fill="#f3b1b5"/><path d="M709.0 280.4 L719.3 278.4 L720.1 276.8 L717.5 268.8 L707.4 266.2 L703.3 271.4 L703.4 273.1Z" fill="#f3b1b5"/><path d="M697.6 352.5 L692.5 354.0 L686.5 348.0 L686.9 344.3 L686.9 344.3 L679.4 350.7 L680.4 352.0 L691.5 359.4 L691.6 359.5 L698.6 354.9Z" fill="#f9d5d7"/><path d="M728.6 288.5 L729.7 287.4 L723.2 286.3ZM720.1 276.8 L719.3 278.4 L720.2 282.8 L725.7 279.4 L728.4 275.8Z" fill="#ed8c91"/><path d="M742.6 307.6 L743.4 308.0 L744.0 304.5 L748.0 305.0 L749.5 310.0 L749.0 311.4 L749.6 311.7 L757.8 308.7 L753.5 295.9 L742.8 298.4 L741.0 303.6Z" fill="#f3b1b5"/><path d="M741.0 303.6 L742.8 298.4 L740.2 294.9 L729.4 294.4 L727.6 297.2 L731.7 304.6Z" fill="#f9d5d7"/><path d="M649.7 298.5 L647.0 311.8 L658.1 313.4 L660.1 299.2 L656.5 296.7Z" fill="#f9d5d7"/><path d="M680.6 323.8 L682.0 333.2 L685.9 334.9 L686.9 334.3 L691.4 323.7 L685.2 321.4Z" fill="#f9d5d7"/><path d="M695.2 366.8 L700.8 373.3 L704.5 373.0 L698.7 354.9 L698.6 354.9 L691.6 359.5Z" fill="#f9d5d7"/><path d="M686.9 334.3 L699.2 334.7 L698.4 325.7 L692.2 323.5 L691.4 323.7Z" fill="#f9d5d7"/><path d="M702.1 242.3 L706.2 244.9 L709.7 247.1 L714.4 244.5 L714.7 243.7 L714.3 243.3 L710.5 244.1 L705.5 242.4 L704.1 239.7Z" fill="#f3b1b5"/><path d="M677.9 301.4 L679.2 311.4 L682.7 312.1 L682.3 311.4 L686.0 304.0 L687.6 301.8 L685.4 299.1 L680.2 299.1Z" fill="#f9d5d7"/><path d="M727.3 335.2 L726.6 335.9 L730.7 344.2 L735.8 349.3 L733.2 351.8 L733.8 352.3 L735.8 351.0 L738.3 348.4 L732.3 335.6Z" fill="#f9d5d7"/><path d="M703.5 321.8 L698.4 325.7 L699.2 334.7 L701.4 337.3 L705.9 337.8 L710.9 334.2 L712.3 327.4 L704.9 321.9Z" fill="#f3b1b5"/><path d="M670.8 265.0 L663.5 265.0 L660.0 258.0 L660.0 257.9 L659.5 258.2 L659.5 262.0 L657.6 265.8 L664.4 270.6Z" fill="#f3b1b5"/><path d="M676.6 289.8 L680.2 299.1 L685.4 299.1 L689.1 293.6 L687.4 289.6 L686.0 291.0 L679.7 287.4Z" fill="#f9d5d7"/><path d="M675.5 321.5 L680.6 323.8 L685.2 321.4 L685.2 316.3 L682.7 312.1 L679.2 311.4 L674.4 314.8Z" fill="#f9d5d7"/><path d="M706.4 260.0 L707.4 266.2 L717.5 268.8 L725.1 259.9 L725.1 259.4 L715.8 254.5Z" fill="#f3b1b5"/><path d="M720.5 303.1 L714.9 304.3 L714.6 304.8 L715.4 308.0 L722.3 307.3 L722.8 307.0Z" fill="#f3b1b5"/><path d="M740.7 268.1 L739.3 268.5 L742.2 268.7ZM732.9 270.2 L732.1 272.0 L738.9 268.6Z" fill="#f3b1b5"/><path d="M710.2 306.2 L714.6 304.8 L714.9 304.3 L712.5 297.9 L708.9 296.5 L706.0 299.8 L705.8 302.2Z" fill="#e8646c"/><path d="M711.7 289.1 L707.9 283.7 L703.9 286.1 L703.8 292.0 L708.4 294.6Z" fill="#f3b1b5"/><path d="M728.6 288.5 L723.2 286.3 L722.3 286.1 L721.6 285.6 L720.7 285.2 L717.6 289.4 L718.4 294.2 L723.4 298.1 L727.6 297.2 L729.4 294.4Z" fill="#f3b1b5"/><path d="M695.1 233.3 L692.3 235.2 L690.5 238.9 L686.8 239.8 L682.1 241.6 L683.5 250.0 L684.9 254.6 L685.4 260.1 L684.0 265.7 L683.1 269.4 L685.8 273.1 L688.6 275.4 L691.4 272.1 L693.2 268.4 L696.0 265.7 L702.5 262.0 L706.2 260.1 L708.9 256.4 L710.8 252.7 L709.9 247.2 L706.2 244.9 L700.2 241.2 L701.1 237.9Z" fill="#ed8c91"/><path d="M668.1 271.5 L667.9 275.0 L671.0 276.0 L673.7 274.5 L677.7 272.4 L681.7 270.6 L680.5 265.4 L677.3 266.2 L674.0 268.6 L670.3 267.2Z" fill="#ed8c91"/><path d="M704.5 200.2 L701.1 203.6 L697.7 208.6 L695.2 217.0 L691.8 223.7 L692.7 228.8 L697.7 232.1 L702.8 237.2 L705.5 242.4 L710.5 244.1 L718.9 242.4 L725.7 235.7 L727.3 228.1 L722.3 218.9 L719.5 212.0 L712.9 205.3Z" fill="#f3b1b5"/><path d="M674.2 191.8 L669.2 196.8 L665.0 201.9 L667.5 206.9 L664.1 212.8 L659.1 212.8 L656.5 214.5 L660.8 217.9 L664.1 223.7 L666.6 228.8 L670.0 225.4 L672.5 220.4 L677.6 219.5 L680.9 215.3 L684.3 210.3 L686.0 204.4 L688.5 200.2 L691.0 196.8 L686.0 195.2 L680.9 191.0Z" fill="#f3b1b5"/><path d="M670.8 182.6 L666.6 187.6 L665.8 193.5 L669.2 196.8 L674.2 191.8 L680.9 191.0 L681.5 189.0 L678.5 184.0Z" fill="#f3b1b5"/><path d="M684.3 181.7 L681.7 186.0 L683.5 189.5 L688.0 188.4 L688.5 182.6Z" fill="#f3b1b5"/><path d="M730.7 272.7 L725.7 279.4 L718.9 283.6 L722.3 286.1 L732.4 287.8 L744.2 288.6 L754.2 287.0 L748.4 277.7 L749.2 269.3 L739.1 268.5Z" fill="#ed8c91"/><path d="M713.9 308.1 L715.6 317.3 L717.3 324.1 L720.6 330.8 L727.3 334.1 L734.1 332.5 L737.4 324.1 L739.1 315.7 L741.6 307.3 L735.8 306.4 L729.0 303.9 L722.3 307.3Z" fill="#f3b1b5"/><path d="M712.2 334.1 L713.1 340.9 L714.7 347.6 L718.9 351.0 L725.7 352.6 L732.4 352.6 L735.8 349.3 L730.7 344.2 L725.7 334.1 L718.9 330.8Z" fill="#f9d5d7"/><path d="M674.9 274.4 L673.0 285.5 L679.5 287.3 L686.0 291.0 L691.5 285.5 L689.7 280.0 L682.3 272.5Z" fill="#ed8c91"/><path d="M691.5 296.6 L686.0 304.0 L682.3 311.4 L687.8 320.6 L697.1 322.5 L702.6 313.2 L700.8 302.1Z" fill="#f3b1b5"/><path d="M687.5 338.0 L686.5 348.0 L692.5 354.0 L699.5 352.0 L700.8 343.0 L696.5 337.0Z" fill="#ed8c91"/><path d="M668.5 221.0 L667.0 230.0 L670.5 238.0 L680.5 240.0 L687.5 237.0 L691.5 229.0 L688.5 223.0 L683.5 216.0 L677.5 219.8Z" fill="#f3b1b5"/><path d="M660.5 250.0 L660.0 258.0 L663.5 265.0 L672.5 265.0 L676.5 259.0 L675.5 250.0 L668.5 248.0Z" fill="#ed8c91"/><path d="M744.0 304.5 L743.0 310.0 L744.5 315.0 L747.5 316.0 L749.5 310.0 L748.0 305.0Z" fill="#e8646c"/><path d="M740.0 313.0 L741.5 319.0 L746.0 325.0 L750.5 327.5 L752.0 323.0 L747.5 318.0 L743.5 312.5Z" fill="#e8646c"/><path d="M738.5 321.5 L738.0 324.5 L740.5 325.5 L744.0 329.0 L747.0 328.5 L744.5 324.5 L742.0 320.7Z" fill="#e01b23"/><path d="M682.5 214.0 L682.8 220.0 L685.0 224.0 L687.5 221.0 L688.5 216.0 L686.5 212.5Z" fill="#e8646c"/><path d="M638.5 253.0 L640.5 260.0 L641.5 270.0 L647.5 273.0 L655.5 270.0 L659.5 262.0 L659.5 251.0 L652.5 248.0 L644.5 249.0Z" fill="#f3b1b5"/></g></g><circle cx="277.6" cy="407.5" r="6.3" fill="#f9d5d7"/><circle cx="351.4" cy="407.5" r="6.3" fill="#f3b1b5"/><circle cx="446.3" cy="407.5" r="6.3" fill="#ed8c91"/><circle cx="339.4" cy="428.4" r="6.3" fill="#e8646c"/><circle cx="402.1" cy="428.4" r="6.3" fill="#e01b23"/><circle cx="628.5" cy="394.6" r="6.3" fill="#f9d5d7"/><circle cx="716.4" cy="394.6" r="6.3" fill="#f3b1b5"/><circle cx="597.6" cy="415.6" r="6.3" fill="#ed8c91"/><circle cx="718.3" cy="415.6" r="6.3" fill="#e8646c"/><circle cx="679.7" cy="436.6" r="6.3" fill="#e01b23"/></svg>
<svg class="lg" style="position:absolute;left:0;top:0" width="1113" height="595">
<!-- Agenda digitale dell'Umbria -->
<g font-family="'Liberation Serif',serif" font-weight="bold">
<text x="38" y="177.7" font-size="16" fill="#c4c4c4" textLength="54.4" lengthAdjust="spacingAndGlyphs">Agenda</text>
<text x="17.8" y="188.4" font-size="15" fill="#c0272d" textLength="53.8" lengthAdjust="spacingAndGlyphs">digitale</text>
<text x="25.2" y="199.9" font-size="10" fill="#6d6d6d" textLength="17.3" lengthAdjust="spacingAndGlyphs">dell'</text>
<text x="43.3" y="200.1" font-size="15.5" fill="#7a7a7a" textLength="53.2" lengthAdjust="spacingAndGlyphs">Umbria</text>
</g>
<line x1="124.7" y1="156.1" x2="97.8" y2="216.7" stroke="#dcdcdc" stroke-width="1"/>
<!-- Regione Umbria -->
<g>
<rect x="129.6" y="178" width="13.6" height="22" fill="#f3e4e5"/>
<rect x="131" y="178" width="2.6" height="22" fill="#c1272d"/>
<rect x="135" y="178" width="2.6" height="22" fill="#c1272d"/>
<rect x="139" y="178" width="2.6" height="22" fill="#c1272d"/>
<g stroke="#f2c9cb" stroke-width="0.6"><line x1="130" y1="183" x2="143" y2="183"/><line x1="130" y1="189" x2="143" y2="189"/><line x1="130" y1="195" x2="143" y2="195"/></g>
<text x="147.7" y="197.2" font-family="'Liberation Sans',sans-serif" font-size="7" font-weight="bold" fill="#5a5a5a" textLength="55.2" lengthAdjust="spacingAndGlyphs">Regione Umbria</text>
</g>
<!-- Protezione Civile -->
<g>
<circle cx="71.4" cy="259" r="32.2" fill="#2a4fd6"/>
<circle cx="71.4" cy="259" r="22.6" fill="#f6961f"/>
<path d="M71.2 236.6 L90.6 268.5 L52 268.5 Z" fill="#2a4fd6"/>
<path d="M66 248 L70 245.5 L74 247 L77 251 L76.5 256 L78 260 L75 264.5 L70 265.8 L66.5 262 L64.5 257 L65 252 Z" fill="#2f8a2f"/>
<rect x="69" y="270.5" width="5.2" height="8.6" fill="#fff"/>
<rect x="69.8" y="271" width="1.2" height="7.6" fill="#d33"/><rect x="72.2" y="271" width="1.2" height="7.6" fill="#d33"/>
<defs><path id="pcarc" d="M50.4 271.5 A24.1 24.1 0 1 1 92.4 271.5"/><path id="pcarc2" d="M44.4 264 A27.5 27.5 0 0 0 98.4 264"/></defs>
<text font-family="'Liberation Sans',sans-serif" font-weight="bold" font-size="9.4" fill="#fff" letter-spacing="0.3"><textPath href="#pcarc" startOffset="50%" text-anchor="middle">Protezione Civile</textPath></text>
<text font-family="'Liberation Sans',sans-serif" font-size="5.6" fill="#e8eeff"><textPath href="#pcarc2" startOffset="50%" text-anchor="middle">Regione Umbria</textPath></text>
</g>
<!-- ANCI Umbria Prociv -->
<g>
<circle cx="149" cy="259" r="31.6" fill="#f07a22" stroke="#2c3a6e" stroke-width="1.3"/>
<path d="M149.2 233.4 L170 271.8 L128.6 271.8 Z" fill="#253a78"/>
<path d="M133 236.5 L137.5 233.5 L142 232.3 L145.5 234.5 L147.8 238.5 L148.6 243 L150.8 247 L152 252 L151.3 257.5 L150 262 L147 267.5 L142.5 270.2 L138 269.8 L134.5 266.5 L131.8 261 L130.2 255 L131 249 L130 243 Z" fill="#fff"/>
<text x="130.8" y="257" font-family="'Liberation Sans',sans-serif" font-weight="bold" font-size="11" fill="#25387a" textLength="18.4" lengthAdjust="spacingAndGlyphs">ANCI</text>
<text x="135" y="265.8" font-family="'Liberation Sans',sans-serif" font-weight="bold" font-size="8" fill="#f07a22" textLength="28.8" lengthAdjust="spacingAndGlyphs">UMBRIA</text>
<text x="131.5" y="283.2" font-family="'Liberation Sans',sans-serif" font-weight="bold" font-size="13" fill="#fff" textLength="34.3" lengthAdjust="spacingAndGlyphs">PROCIV</text>
</g>
<!-- scrollbar -->
<rect x="227.3" y="147.5" width="15.5" height="161.5" fill="#efefef"/>
<path d="M232 158.8 L235.2 155.2 L238.4 158.8 Z" fill="#a3a3a3"/>
<path d="M232 297.4 L235.2 301 L238.4 297.4 Z" fill="#a3a3a3"/>
</svg>

<svg class="ar" style="position:absolute;left:346.70px;top:92.10px" width="11.30" height="12.80" viewBox="0 0 11.30 12.80"><path d="M5.65 0.9 V12.80 M0.7 6.40 L5.65 0.9 L10.60 6.40" fill="none" stroke="#dd6770" stroke-width="1.6"/></svg>
<svg class="ar" style="position:absolute;left:968.60px;top:92.20px" width="11.60" height="12.60" viewBox="0 0 11.60 12.60"><path d="M5.80 0.9 V12.60 M0.7 6.40 L5.80 0.9 L10.90 6.40" fill="none" stroke="#dd6770" stroke-width="1.6"/></svg>
<svg class="ar" style="position:absolute;left:962.50px;top:253.20px" width="11.50" height="12.70" viewBox="0 0 11.50 12.70"><path d="M5.75 0.9 V12.70 M0.7 6.40 L5.75 0.9 L10.80 6.40" fill="none" stroke="#78b044" stroke-width="1.6"/></svg>
<svg class="ar" style="position:absolute;left:99.00px;top:414.40px" width="11.50" height="12.60" viewBox="0 0 11.50 12.60"><path d="M5.75 0.9 V12.60 M0.7 6.40 L5.75 0.9 L10.80 6.40" fill="none" stroke="#dd6770" stroke-width="1.6"/></svg>
<svg class="ar" style="position:absolute;left:966.80px;top:414.60px" width="11.80" height="12.70" viewBox="0 0 11.80 12.70"><path d="M5.90 0.9 V12.70 M0.7 6.40 L5.90 0.9 L11.10 6.40" fill="none" stroke="#dd6770" stroke-width="1.6"/></svg>
<svg class="ar" style="position:absolute;left:98.60px;top:552.70px" width="11.40" height="12.70" viewBox="0 0 11.40 12.70"><path d="M5.70 0.9 V12.70 M0.7 6.40 L5.70 0.9 L10.70 6.40" fill="none" stroke="#dd6770" stroke-width="1.6"/></svg>
<svg class="ar" style="position:absolute;left:315.70px;top:552.00px" width="11.30" height="12.70" viewBox="0 0 11.30 12.70"><path d="M5.65 0.9 V12.70 M0.7 6.40 L5.65 0.9 L10.60 6.40" fill="none" stroke="#dd6770" stroke-width="1.6"/></svg>
<svg class="ar" style="position:absolute;left:721.00px;top:552.00px" width="11.50" height="12.70" viewBox="0 0 11.50 12.70"><path d="M5.75 0.9 V12.70 M0.7 6.40 L5.75 0.9 L10.80 6.40" fill="none" stroke="#dd6770" stroke-width="1.6"/></svg>
<svg class="ar" style="position:absolute;left:962.80px;top:551.70px" width="11.50" height="12.70" viewBox="0 0 11.50 12.70"><path d="M5.75 0.9 V12.70 M0.7 6.40 L5.75 0.9 L10.80 6.40" fill="none" stroke="#dd6770" stroke-width="1.6"/></svg>
<div class="t" id="dt" style="left:18.50px;top:41.07px;font-size:30.5px;font-weight:bold;color:#252a33;letter-spacing:-0.071px">5/2/2021, 11:12</div>
<div class="t" id="agg" style="left:53.00px;top:78.42px;font-size:15.4px;font-weight:normal;color:#2d3139;letter-spacing:0.612px;-webkit-text-stroke:0.35px #2d3139">aggiornamento dati</div>
<div class="t" id="n1" style="left:338.00px;top:31.80px;font-size:30px;font-weight:bold;color:#252a33;letter-spacing:0.400px">6398</div>
<div class="t" id="n2" style="left:967.00px;top:31.79px;font-size:30px;font-weight:bold;color:#252a33;letter-spacing:0.500px">443</div>
<div class="t" id="n3" style="left:951.50px;top:192.80px;font-size:30px;font-weight:bold;color:#252a33;letter-spacing:0.000px">30530</div>
<div class="t" id="n4" style="left:79.00px;top:352.80px;font-size:30px;font-weight:bold;color:#252a33;letter-spacing:-0.400px">37.751</div>
<div class="t" id="n5" style="left:967.00px;top:352.80px;font-size:30px;font-weight:bold;color:#252a33;letter-spacing:-0.100px">823</div>
<div class="t" id="n6" style="left:87.00px;top:491.30px;font-size:30px;font-weight:bold;color:#252a33;letter-spacing:-0.050px">8.182</div>
<div class="t" id="n7" style="left:316.50px;top:491.30px;font-size:30px;font-weight:bold;color:#252a33;letter-spacing:-0.100px">443</div>
<div class="t" id="n8" style="left:510.50px;top:487.49px;font-size:28.5px;font-weight:bold;color:#252a33;letter-spacing:1.000px;transform:scaleX(1.0392);transform-origin:0 0">66</div>
<div class="t" id="n9" style="left:698.50px;top:490.80px;font-size:30px;font-weight:bold;color:#252a33;letter-spacing:-0.080px">50.339</div>
<div class="t" id="n10" style="left:938.50px;top:491.79px;font-size:30px;font-weight:bold;color:#252a33;letter-spacing:-0.367px">612.551</div>
<div class="t" id="l1" style="left:297.50px;top:66.55px;font-size:15.3px;font-weight:normal;color:#2d3139;letter-spacing:0.905px;-webkit-text-stroke:0.35px #2d3139">Attualmente positivi</div>
<div class="t" id="l2" style="left:940.50px;top:66.05px;font-size:15.3px;font-weight:normal;color:#2d3139;letter-spacing:0.831px;-webkit-text-stroke:0.35px #2d3139">Nuovi Positivi</div>
<div class="t" id="l3" style="left:966.00px;top:227.55px;font-size:15.3px;font-weight:normal;color:#2d3139;letter-spacing:1.133px;-webkit-text-stroke:0.35px #2d3139">Guariti</div>
<div class="t" id="l4" style="left:53.00px;top:387.55px;font-size:15.3px;font-weight:normal;color:#2d3139;letter-spacing:0.495px;-webkit-text-stroke:0.35px #2d3139">Casi positivi (Totali)</div>
<div class="t" id="l5" style="left:959.00px;top:389.05px;font-size:15.3px;font-weight:normal;color:#2d3139;letter-spacing:0.829px;-webkit-text-stroke:0.35px #2d3139">Deceduti</div>
<div class="t" id="l6" style="left:74.50px;top:526.05px;font-size:15.3px;font-weight:normal;color:#2d3139;letter-spacing:0.683px;-webkit-text-stroke:0.35px #2d3139">In isolamento</div>
<div class="t" id="l7" style="left:303.50px;top:526.55px;font-size:15.3px;font-weight:normal;color:#2d3139;letter-spacing:0.822px;-webkit-text-stroke:0.35px #2d3139">Ricoverati</div>
<div class="t" id="l8" style="left:454.00px;top:521.05px;font-size:15.4px;font-weight:bold;color:#3a3d42;letter-spacing:-0.136px">di cui in terapia in...</div>
<div class="t" id="s8a" style="left:437.50px;top:540.80px;font-size:13px;font-weight:normal;color:#3e3e3e;letter-spacing:0.509px;-webkit-text-stroke:0.15px #3e3e3e">Non variato rispetto al</div>
<div class="t" id="s8b" style="left:438.20px;top:557.90px;font-size:13px;font-weight:normal;color:#3e3e3e;letter-spacing:0.400px;-webkit-text-stroke:0.15px #3e3e3e">giorno precedente.</div>
<div class="t" id="l9" style="left:677.50px;top:527.05px;font-size:15.3px;font-weight:normal;color:#2d3139;letter-spacing:0.622px;-webkit-text-stroke:0.35px #2d3139">Antigenici eseguiti</div>
<div class="t" id="l10" style="left:931.00px;top:526.05px;font-size:15.3px;font-weight:normal;color:#2d3139;letter-spacing:0.533px;-webkit-text-stroke:0.35px #2d3139">Tamponi eseguiti</div>
<div class="t" id="p1" style="left:367.50px;top:91.18px;font-size:14.8px;font-weight:bold;color:#dd6770;letter-spacing:0.200px;transform:scaleX(0.8732);transform-origin:0 0">3.3%</div>
<div class="t" id="p2" style="left:989.00px;top:91.68px;font-size:14.8px;font-weight:bold;color:#dd6770;letter-spacing:0.200px;transform:scaleX(0.8909);transform-origin:0 0">19%</div>
<div class="t" id="p3" style="left:982.50px;top:252.18px;font-size:14.8px;font-weight:bold;color:#78b044;letter-spacing:0.200px;transform:scaleX(0.9211);transform-origin:0 0">0.75%</div>
<div class="t" id="p4" style="left:119.50px;top:413.68px;font-size:14.8px;font-weight:bold;color:#dd6770;letter-spacing:0.200px;transform:scaleX(0.8760);transform-origin:0 0">1.2%</div>
<div class="t" id="p5" style="left:987.50px;top:414.18px;font-size:14.8px;font-weight:bold;color:#dd6770;letter-spacing:0.200px;transform:scaleX(0.8760);transform-origin:0 0">1.2%</div>
<div class="t" id="p6" style="left:120.50px;top:551.68px;font-size:14.8px;font-weight:bold;color:#dd6770;letter-spacing:0.200px;transform:scaleX(0.8495);transform-origin:0 0">2.8%</div>
<div class="t" id="p7" style="left:336.50px;top:551.18px;font-size:14.8px;font-weight:bold;color:#dd6770;letter-spacing:0.200px;transform:scaleX(0.8761);transform-origin:0 0">1.1%</div>
<div class="t" id="p9" style="left:741.50px;top:550.68px;font-size:14.8px;font-weight:bold;color:#dd6770;letter-spacing:0.200px;transform:scaleX(0.8872);transform-origin:0 0">10%</div>
<div class="t" id="p10" style="left:983.00px;top:550.68px;font-size:14.8px;font-weight:bold;color:#dd6770;letter-spacing:0.200px;transform:scaleX(0.9175);transform-origin:0 0">0.64%</div>
<div class="t" id="ct" style="left:516.50px;top:15.81px;font-size:13.5px;font-weight:normal;color:#252a33;letter-spacing:0.139px;-webkit-text-stroke:0.25px #252a33">Andamento attualmente positivi ultima settimana</div>
<div class="t" id="cl0" style="left:534.50px;top:108.07px;font-size:11.8px;font-weight:bold;color:#333740;letter-spacing:0.933px">5477</div>
<div class="t" id="cl1" style="left:572.00px;top:80.07px;font-size:11.8px;font-weight:bold;color:#333740;letter-spacing:1.333px">5511</div>
<div class="t" id="cl2" style="left:610.50px;top:73.57px;font-size:11.8px;font-weight:bold;color:#333740;letter-spacing:1.067px">5629</div>
<div class="t" id="cl3" style="left:648.50px;top:73.57px;font-size:11.8px;font-weight:bold;color:#333740;letter-spacing:1.133px">5643</div>
<div class="t" id="cl4" style="left:686.00px;top:65.07px;font-size:11.8px;font-weight:bold;color:#333740;letter-spacing:1.267px">5772</div>
<div class="t" id="cl5" style="left:724.00px;top:53.57px;font-size:11.8px;font-weight:bold;color:#333740;letter-spacing:1.267px">5999</div>
<div class="t" id="cl6" style="left:762.50px;top:43.07px;font-size:11.8px;font-weight:bold;color:#333740;letter-spacing:0.933px">6191</div>
<div class="t" id="cl7" style="left:799.80px;top:31.40px;font-size:11.8px;font-weight:bold;color:#333740;letter-spacing:1.233px">6398</div>
<div class="t" id="m1t" style="left:268.00px;top:153.31px;font-size:13.5px;font-weight:normal;color:#252a33;letter-spacing:-0.232px;-webkit-text-stroke:0.25px #252a33">Attualmente Positivi</div>
<div class="t" id="m2t" style="left:579.00px;top:152.81px;font-size:13.5px;font-weight:normal;color:#505050;letter-spacing:-0.100px;-webkit-text-stroke:0.25px #505050">Tasso positivi x 1000</div>
<div class="t" id="g1" style="left:291.00px;top:400.42px;font-size:16.5px;font-weight:normal;color:#252a33;letter-spacing:-0.000px;-webkit-text-stroke:0.15px #252a33">0 - 47</div>
<div class="t" id="g2" style="left:366.00px;top:400.42px;font-size:16.5px;font-weight:normal;color:#252a33;letter-spacing:0.286px;-webkit-text-stroke:0.15px #252a33">50 - 118</div>
<div class="t" id="g3" style="left:461.50px;top:400.42px;font-size:16.5px;font-weight:normal;color:#252a33;letter-spacing:-0.025px;-webkit-text-stroke:0.15px #252a33">137 - 264</div>
<div class="t" id="g4" style="left:354.50px;top:421.42px;font-size:16.5px;font-weight:normal;color:#252a33;letter-spacing:1.000px;-webkit-text-stroke:0.15px #252a33">619</div>
<div class="t" id="g5" style="left:417.50px;top:421.42px;font-size:16.5px;font-weight:normal;color:#252a33;letter-spacing:0.160px;-webkit-text-stroke:0.15px #252a33">1651 +</div>
<div class="t" id="h1" style="left:643.00px;top:387.92px;font-size:16.5px;font-weight:normal;color:#252a33;letter-spacing:-0.086px;-webkit-text-stroke:0.15px #252a33">0 - 2,99</div>
<div class="t" id="h2" style="left:732.00px;top:387.92px;font-size:16.5px;font-weight:normal;color:#252a33;letter-spacing:-0.244px;-webkit-text-stroke:0.15px #252a33">3,36 - 7,4</div>
<div class="t" id="h3" style="left:612.00px;top:407.92px;font-size:16.5px;font-weight:normal;color:#252a33;letter-spacing:0.036px;-webkit-text-stroke:0.15px #252a33">8,31 - 11,35</div>
<div class="t" id="h4" style="left:734.00px;top:407.92px;font-size:16.5px;font-weight:normal;color:#252a33;letter-spacing:0.000px;-webkit-text-stroke:0.15px #252a33">13,63 - 19,83</div>
<div class="t" id="h5" style="left:693.50px;top:428.92px;font-size:16.5px;font-weight:normal;color:#252a33;letter-spacing:-0.067px;-webkit-text-stroke:0.15px #252a33">28,08 +</div>
</body>
</html>
